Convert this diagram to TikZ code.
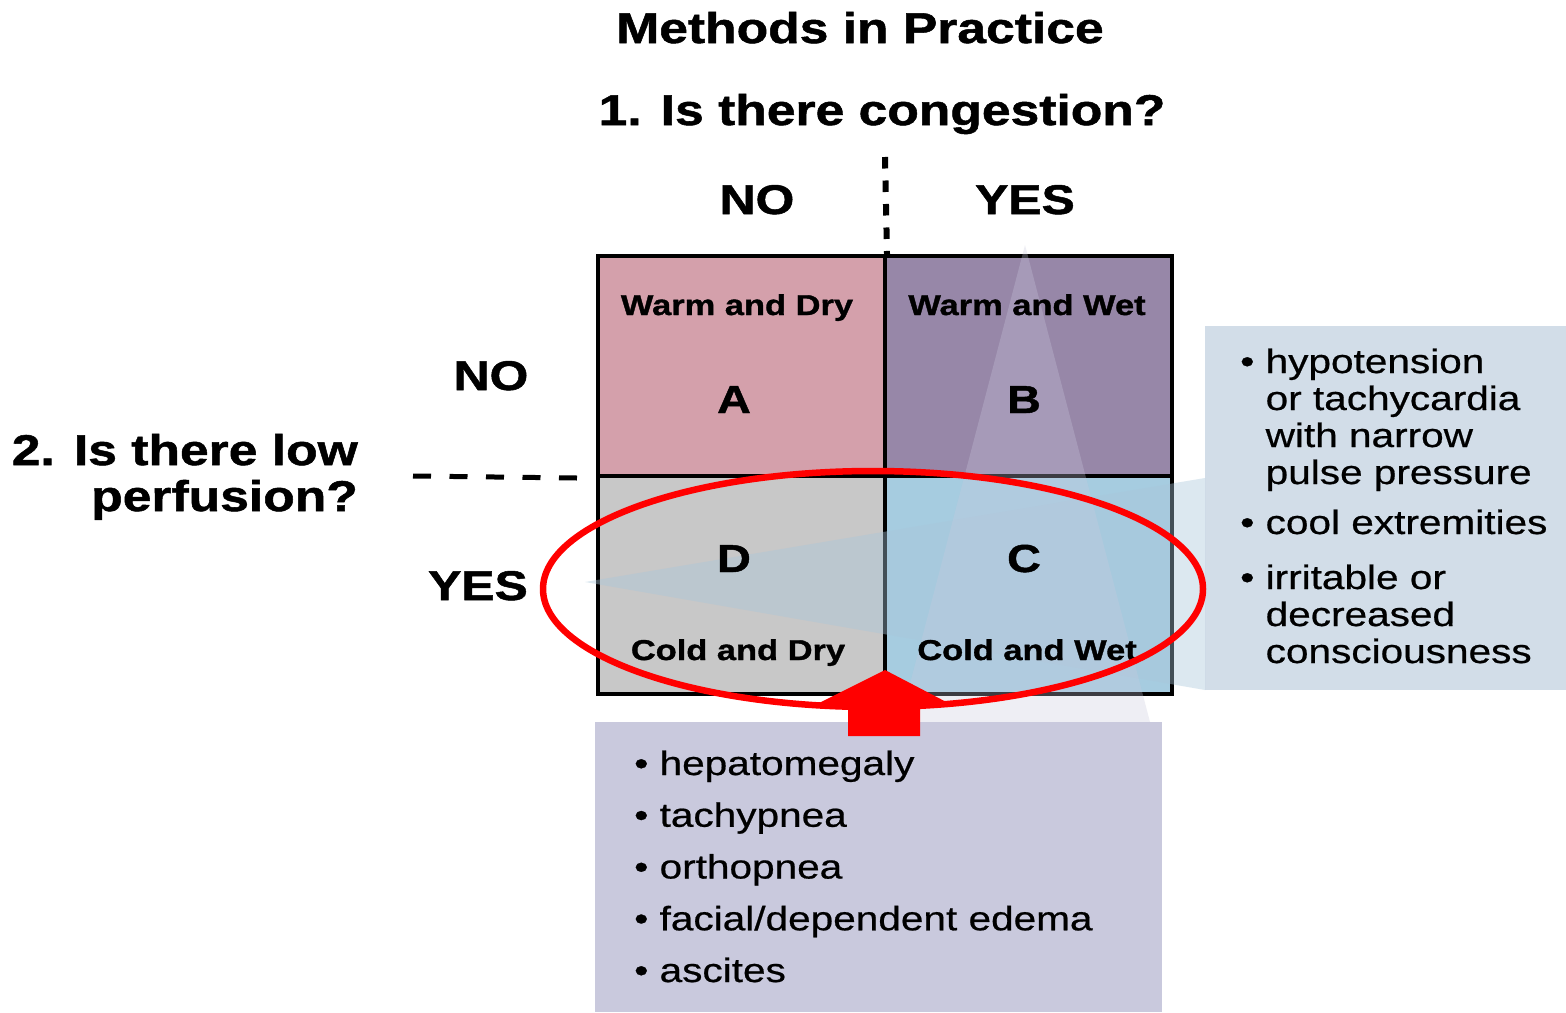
\documentclass[tikz,border=0pt]{standalone}
\usepackage{fontspec}
\setmainfont{Liberation Sans}[FakeStretch=1.2, UprightFeatures={FakeBold=0.6}, BoldFeatures={FakeBold=1.2}]
\usepackage{tikz}
\usetikzlibrary{positioning,calc}
\definecolor{warmdrycol}{HTML}{D4A0AB}
\definecolor{warmwetcol}{HTML}{9787A8}
\definecolor{colddrycol}{HTML}{C8C8C8}
\definecolor{coldwetcol}{HTML}{A6CCE0}
\definecolor{perfboxcol}{HTML}{D2DDE8}
\definecolor{perfwedgecol}{HTML}{A9C6DA}
\definecolor{congboxcol}{HTML}{C9C9DD}
\definecolor{markred}{HTML}{FF0000}

\tikzset{
  cell/.style={draw=black, line width=4pt, minimum width=287pt, minimum height=220pt, inner sep=0pt},
  question/.style={font=\bfseries\fontsize{43}{46}\selectfont, inner sep=0pt},
  answer/.style={font=\bfseries\fontsize{41.5}{45}\selectfont, anchor=base, inner sep=0pt},
  letter/.style={font=\bfseries\fontsize{39}{42}\selectfont, anchor=base, inner sep=0pt},
  cellname/.style={font=\bfseries\fontsize{28.7}{32}\selectfont, anchor=base, inner sep=0pt},
  signs/.style={anchor=base west, inner sep=0pt},
}

\begin{document}
\begin{tikzpicture}[x=1pt, y=-1pt]
  \useasboundingbox[fill=white] (0,0) rectangle (1566,1012);

  % sign boxes behind the grid
  \fill[perfboxcol] (1205,326) rectangle (1566,690);
  \fill[congboxcol] (595,722) rectangle (1162,1012);

  % the four quadrants
  \node[cell, fill=warmdrycol] (warmdry) at (741.5,366) {};
  \node[cell, fill=warmwetcol] (warmwet) at (1028.5,366) {};
  \node[cell, fill=colddrycol, minimum height=218pt] (colddry) at (741.5,585) {};
  \node[cell, fill=coldwetcol, minimum height=218pt] (coldwet) at (1028.5,585) {};

  % callout wedges
  \fill[perfwedgecol, fill opacity=0.4] (585,582) -- (1205,478) -- (1205,690) -- cycle;
  \fill[congboxcol, fill opacity=0.3] (1025,245) -- (1150,722) -- (900,722) -- cycle;

  \node[cellname] (warmdrytxt) at (737,315) {Warm and Dry};
  \node[letter] (lettera) at (734,413) {A};
  \node[cellname] (warmwettxt) at (1027,315) {Warm and Wet};
  \node[letter] (letterb) at (1024,413) {B};
  \node[letter] (letterd) at (734,572) {D};
  \node[cellname] (colddrytxt) at (738,660) {Cold and Dry};
  \node[letter] (letterc) at (1024,572) {C};
  \node[cellname] (coldwettxt) at (1027,660) {Cold and Wet};

  % questions and answers
  \node[question, anchor=base] (title) at (860,43) {Methods in Practice};
  \node[question, anchor=base] (congestion) at (882,125) {1. Is there congestion?};
  \node[answer] (congno) at (757,214) {NO};
  \node[answer] (congyes) at (1025,214) {YES};
  \node[question, anchor=base east] (perfusion) at (358,465)
    {\begin{tabular}[t]{@{}r@{}}2. Is there low\\ perfusion?\end{tabular}};
  \node[answer] (perfno) at (491,390) {NO};
  \node[answer] (perfyes) at (478,600) {YES};

  \coordinate (congtop) at (885,157);
  \coordinate (perfleft) at (413,476);
  \draw[line width=6pt, dash pattern=on 11.5pt off 12pt] (congtop) -- (warmdry.north east);
  \draw[line width=5pt, dash pattern=on 18pt off 18.5pt] (perfleft) -- ([xshift=-19pt]warmdry.south west);

  % signs
  \node[signs, font=\fontsize{33.8}{37}\selectfont] (lowperf) at (1240,373)
    {\begin{tabular}[t]{@{}l@{}}
      \textbullet\ hypotension\\
      \phantom{\textbullet\ }or tachycardia\\
      \phantom{\textbullet\ }with narrow\\
      \phantom{\textbullet\ }pulse pressure\\[13pt]
      \textbullet\ cool extremities\\[18pt]
      \textbullet\ irritable or\\
      \phantom{\textbullet\ }decreased\\
      \phantom{\textbullet\ }consciousness
    \end{tabular}};
  \node[signs, font=\fontsize{33.8}{51.75}\selectfont] (congsigns) at (634,775)
    {\begin{tabular}[t]{@{}l@{}}
      \textbullet\ hepatomegaly\\
      \textbullet\ tachypnea\\
      \textbullet\ orthopnea\\
      \textbullet\ facial/dependent edema\\
      \textbullet\ ascites
    \end{tabular}};

  % red highlight
  \draw[markred, line width=6.5pt] (873,589) ellipse [x radius=330pt, y radius=118pt];
  \fill[markred] (885,670) -- (952,705) -- (920,705) -- (920,736) -- (848,736) -- (848,705) -- (815,705) -- cycle;
\end{tikzpicture}
\end{document}
